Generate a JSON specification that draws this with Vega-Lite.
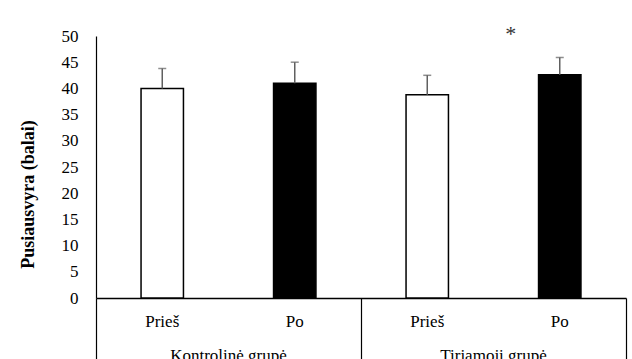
{
  "$schema": "https://vega.github.io/schema/vega-lite/v6.json",
  "width": 530,
  "height": 262,
  "autosize": {"type": "none"},
  "padding": {"left": 96, "top": 36, "right": 6, "bottom": 61},
  "background": "white",
  "config": {
    "font": "Times New Roman, Liberation Serif, serif",
    "text": {"font": "Times New Roman, Liberation Serif, serif"},
    "view": {"stroke": null},
    "axis": {"grid": false, "labelFont": "Times New Roman, Liberation Serif, serif", "titleFont": "Times New Roman, Liberation Serif, serif"}
  },
  "datasets": {
    "bars": [
      {"key": "Kontrolinė grupė|Prieš", "group": "Kontrolinė grupė", "period": "Prieš", "mean": 40.0, "upper": 43.8},
      {"key": "Kontrolinė grupė|Po", "group": "Kontrolinė grupė", "period": "Po", "mean": 41.0, "upper": 45.0},
      {"key": "Tiriamoji grupė|Prieš", "group": "Tiriamoji grupė", "period": "Prieš", "mean": 38.8, "upper": 42.5},
      {"key": "Tiriamoji grupė|Po", "group": "Tiriamoji grupė", "period": "Po", "mean": 42.6, "upper": 45.9}
    ],
    "star": [
      {"key": "Tiriamoji grupė|Po", "mean": 51.1, "label": "*"}
    ],
    "groups": [
      {"group": "Kontrolinė grupė"},
      {"group": "Tiriamoji grupė"}
    ]
  },
  "layer": [
    {
      "encoding": {
        "x": {
          "field": "key", "type": "nominal",
          "sort": ["Kontrolinė grupė|Prieš", "Kontrolinė grupė|Po", "Tiriamoji grupė|Prieš", "Tiriamoji grupė|Po"],
          "scale": {"paddingInner": 0.68, "paddingOuter": 0.34},
          "axis": {
            "title": null, "labelExpr": "split(datum.value, '|')[1]", "ticks": false,
            "labelPadding": 15, "labelFontSize": 17, "labelColor": "black", "labelAngle": 0,
            "domainColor": "black", "domainWidth": 1.5
          }
        },
        "y": {
          "field": "mean", "type": "quantitative",
          "scale": {"domain": [0, 50]},
          "axis": {
            "values": [0, 5, 10, 15, 20, 25, 30, 35, 40, 45, 50],
            "title": "Pusiausvyra (balai)", "titleFontSize": 18, "titleFontWeight": "bold", "titleColor": "black",
            "titleX": -68, "titleY": 158, "titleBaseline": "middle",
            "ticks": false, "labelPadding": 18, "labelFontSize": 17, "labelColor": "black",
            "domainColor": "black", "domainWidth": 1.2
          }
        }
      },
      "layer": [
        {
          "data": {"name": "bars"},
          "mark": {"type": "bar", "stroke": "black", "strokeWidth": 1.5},
          "encoding": {
            "color": {"field": "period", "type": "nominal", "scale": {"domain": ["Prieš", "Po"], "range": ["white", "black"]}, "legend": null}
          }
        },
        {
          "data": {"name": "bars"},
          "mark": {"type": "rule", "color": "#606060", "strokeWidth": 1.5},
          "encoding": {"y2": {"field": "upper"}}
        },
        {
          "data": {"name": "bars"},
          "mark": {"type": "tick", "orient": "horizontal", "color": "#606060", "size": 8, "thickness": 1.5},
          "encoding": {"y": {"field": "upper", "type": "quantitative"}}
        },
        {
          "data": {"name": "star"},
          "mark": {"type": "text", "fontSize": 22, "color": "#333333", "baseline": "middle", "dx": -49, "dy": 4},
          "encoding": {"text": {"field": "label"}}
        }
      ]
    },
    {
      "data": {"name": "groups"},
      "mark": {"type": "rule", "strokeOpacity": 0},
      "encoding": {
        "x": {
          "field": "group", "type": "nominal",
          "sort": ["Kontrolinė grupė", "Tiriamoji grupė"],
          "scale": {"paddingInner": 0, "paddingOuter": 0},
          "axis": {
            "orient": "bottom", "title": null, "bandPosition": 1, "tickExtra": true,
            "tickSize": 70, "tickColor": "black", "tickWidth": 1.2,
            "labelPadding": -21, "labelFontSize": 17, "labelColor": "black", "labelAngle": 0,
            "domain": false
          }
        }
      }
    }
  ],
  "resolve": {"scale": {"x": "independent"}, "axis": {"x": "independent"}}
}
